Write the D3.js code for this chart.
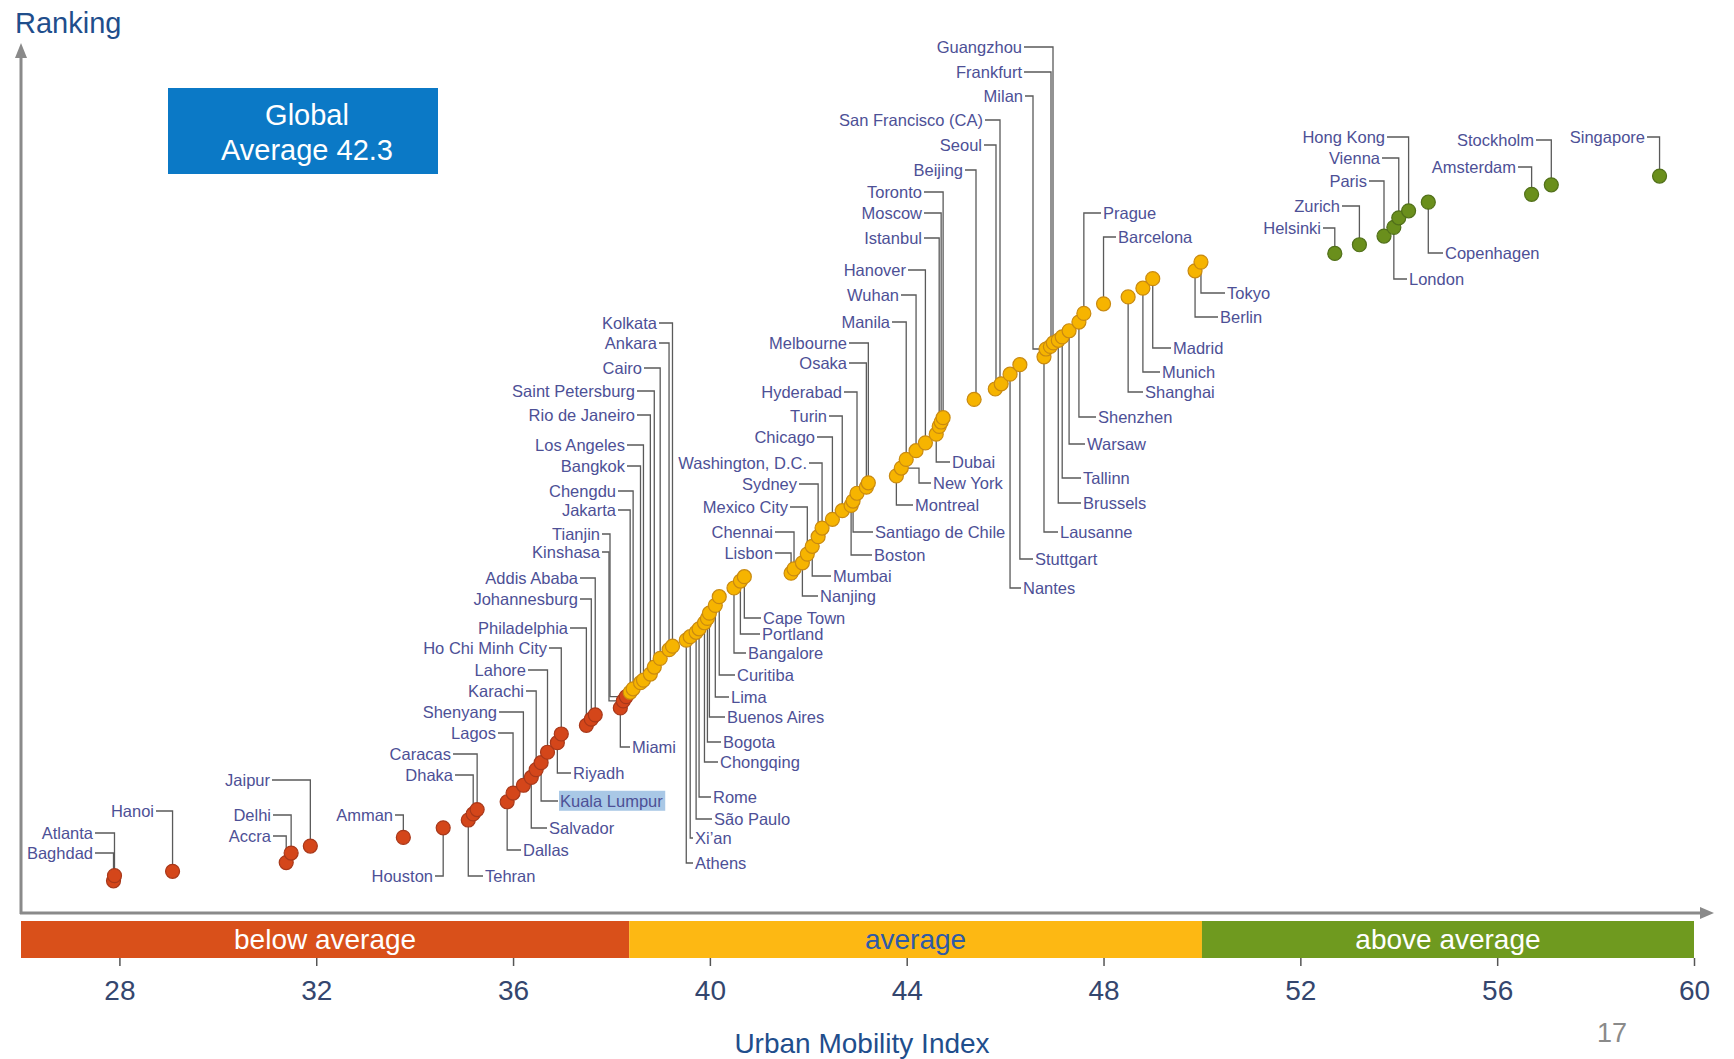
<!DOCTYPE html>
<html><head><meta charset="utf-8">
<script src="https://cdn.jsdelivr.net/npm/d3@7"></script>
<style>
html,body{margin:0;padding:0;background:#fff;}
svg{display:block;font-family:"Liberation Sans",Arial,Helvetica,sans-serif;}
</style></head><body>
<svg id="chart" width="1734" height="1059"></svg>
<script>
// ---------------- DATA ----------------
const cities = ["Singapore","Stockholm","Amsterdam","Copenhagen","Hong Kong","Vienna","London","Paris","Zurich","Helsinki",
"Tokyo","Berlin","Madrid","Munich","Shanghai","Barcelona","Prague","Shenzhen","Warsaw","Tallinn",
"Brussels","Guangzhou","Frankfurt","Milan","Lausanne","Stuttgart","Nantes","San Francisco (CA)","Seoul","Beijing",
"Toronto","Moscow","Istanbul","Dubai","Hanover","Wuhan","Manila","New York","Montreal","Melbourne",
"Osaka","Hyderabad","Santiago de Chile","Boston","Turin","Chicago","Washington, D.C.","Sydney","Mumbai","Mexico City",
"Nanjing","Chennai","Lisbon","Cape Town","Portland","Bangalore","Curitiba","Lima","Buenos Aires","Bogota",
"Chongqing","Rome","São Paulo","Xi’an","Athens","Kolkata","Ankara","Cairo","Saint Petersburg","Rio de Janeiro",
"Los Angeles","Bangkok","Chengdu","Jakarta","Tianjin","Kinshasa","Miami","Addis Ababa","Johannesburg","Philadelphia",
"Ho Chi Minh City","Riyadh","Lahore","Kuala Lumpur","Karachi","Salvador","Shenyang","Lagos","Dallas","Caracas",
"Dhaka","Tehran","Houston","Amman","Jaipur","Delhi","Accra","Hanoi","Atlanta","Baghdad"];

// Urban Mobility Index (x)
const indexValues = [59.3,57.1,56.7,54.6,54.2,54.0,53.9,53.7,53.2,52.7,
49.98,49.86,49.0,48.8,48.5,48.0,47.6,47.5,47.3,47.16,
47.08,46.98,46.92,46.83,46.79,46.3,46.1,45.92,45.8,45.37,
44.74,44.70,44.66,44.60,44.38,44.19,43.99,43.89,43.79,43.22,
43.18,42.99,42.91,42.87,42.69,42.49,42.28,42.20,42.08,41.98,
41.88,41.71,41.65,40.70,40.62,40.49,40.19,40.11,39.99,39.95,
39.89,39.78,39.72,39.60,39.52,39.24,39.17,38.99,38.87,38.79,
38.65,38.59,38.44,38.38,38.30,38.24,38.18,37.67,37.59,37.49,
36.98,36.90,36.70,36.57,36.47,36.37,36.21,36.00,35.88,35.27,
35.19,35.09,34.58,33.77,31.88,31.49,31.39,29.08,27.90,27.88];

// Ranking position (y, 0-100 of the ranking axis)
const rankingValues = [84.8,83.8,82.7,81.8,80.8,80.0,78.9,77.9,76.9,75.9,
74.9,73.9,73.0,71.9,70.9,70.1,69.0,68.0,67.0,66.3,
65.9,65.6,65.2,64.9,64.0,63.1,62.0,60.9,60.3,59.1,
57.0,56.5,56.0,55.1,54.1,53.2,52.2,51.2,50.3,49.5,
49.0,48.3,47.4,46.9,46.3,45.3,44.3,43.3,42.2,41.3,
40.3,39.6,39.1,38.7,38.2,37.4,36.4,35.4,34.5,33.9,
33.4,32.7,32.3,31.8,31.4,30.7,30.3,29.3,28.3,27.5,
26.8,26.5,25.8,25.4,24.9,24.4,23.6,22.8,22.3,21.6,
20.6,19.6,18.5,17.3,16.5,15.6,14.7,13.8,12.8,11.9,
11.4,10.7,9.8,8.7,7.7,6.9,5.8,4.8,4.3,3.7];

const xTicks = [28,32,36,40,44,48,52,56,60];
const bandNames = ["below average","average","above average"];
const bandBreaks = [26, 38.36, 50, 60];
const globalAverage = 42.3;
const highlighted = "Kuala Lumpur";

// ---------------- LABEL LAYOUT (annotation placement, px) ----------------
// side, text anchor x, label y, optional elbow x
const labelLayout = {
"Singapore":["L",1645,137],"Stockholm":["L",1534,140],"Amsterdam":["L",1516,167],"Copenhagen":["R",1445,253],
"Hong Kong":["L",1385,137],"Vienna":["L",1380,158],"London":["R",1409,279],"Paris":["L",1367,181],
"Zurich":["L",1340,206],"Helsinki":["L",1321,228],
"Tokyo":["R",1227,293],"Berlin":["R",1220,317],"Madrid":["R",1173,348],"Munich":["R",1162,372],
"Shanghai":["R",1145,392],"Barcelona":["R",1118,237],"Prague":["R",1103,213],"Shenzhen":["R",1098,417],
"Warsaw":["R",1087,444],"Tallinn":["R",1083,478],"Brussels":["R",1083,503],
"Guangzhou":["L",1022,47,1053],"Frankfurt":["L",1022,72,1051],"Milan":["L",1023,96,1033],
"Lausanne":["R",1060,532],"Stuttgart":["R",1035,559],"Nantes":["R",1023,588],
"San Francisco (CA)":["L",983,120,1000],"Seoul":["L",982,145,996],"Beijing":["L",963,170,976],
"Toronto":["L",922,192],"Moscow":["L",922,213],"Istanbul":["L",922,238],"Dubai":["R",952,462],
"Hanover":["L",906,270],"Wuhan":["L",899,295],"Manila":["L",890,322],"New York":["R",933,483,919],
"Montreal":["R",915,505],"Melbourne":["L",847,343],"Osaka":["L",847,363],"Hyderabad":["L",842,392],
"Santiago de Chile":["R",875,532],"Boston":["R",874,555],"Turin":["L",827,416],"Chicago":["L",815,437],
"Washington, D.C.":["L",807,463],"Sydney":["L",797,484],"Mumbai":["R",833,576],"Mexico City":["L",788,507],
"Nanjing":["R",820,596],"Chennai":["L",773,532],"Lisbon":["L",773,553],
"Cape Town":["R",763,618],"Portland":["R",762,634],"Bangalore":["R",748,653],"Curitiba":["R",737,675],
"Lima":["R",731,697],"Buenos Aires":["R",727,717],"Bogota":["R",723,742],"Chongqing":["R",720,762],
"Rome":["R",713,797],"São Paulo":["R",714,819],"Xi’an":["R",695,838],"Athens":["R",695,863],
"Kolkata":["L",657,323],"Ankara":["L",657,343],"Cairo":["L",642,368],"Saint Petersburg":["L",635,391],
"Rio de Janeiro":["L",635,415],"Los Angeles":["L",625,445],"Bangkok":["L",625,466],"Chengdu":["L",616,491],
"Jakarta":["L",616,510],"Tianjin":["L",600,534,610],"Kinshasa":["L",600,552,609],"Miami":["R",632,747],
"Addis Ababa":["L",578,578],"Johannesburg":["L",578,599],"Philadelphia":["L",568,628],
"Ho Chi Minh City":["L",547,648],"Riyadh":["R",573,773],"Lahore":["L",526,670],"Kuala Lumpur":["R",560,801],
"Karachi":["L",524,691],"Salvador":["R",549,828],"Shenyang":["L",497,712],"Lagos":["L",496,733],
"Dallas":["R",523,850],"Caracas":["L",451,754],"Dhaka":["L",453,775],"Tehran":["R",485,876],
"Houston":["L",433,876],"Amman":["L",393,815],"Jaipur":["L",270,780],"Delhi":["L",271,815],
"Accra":["L",271,836],"Hanoi":["L",154,811],"Atlanta":["L",93,833],"Baghdad":["L",93,853]
};

// ---------------- STYLE ----------------
const bandFill = ["#d9501a","#fdb813","#6f9a1f"];
const bandText = ["#ffffff","#2e5aa8","#ffffff"];
const pointFill = ["#d4461a","#f6b400","#6a8f1c"];
const pointStroke = ["#a8381a","#c98a10","#51701a"];
const labelColor = "#4d5096";
const titleColor = "#1f4e8c";
const axisGray = "#8a8a8a";

// ---------------- CHART ----------------
const svg = d3.select("#chart");
const x = d3.scaleLinear().domain([26, 60]).range([21, 1694]);
const y = d3.scaleLinear().domain([0, 100]).range([913, 44]);
const bandTop = 921, bandBottom = 958;

const data = cities.map((c,i)=>({name:c, v:indexValues[i], h:rankingValues[i],
  cat: indexValues[i] < bandBreaks[1] ? 0 : (indexValues[i] < bandBreaks[2] ? 1 : 2)}));

// bands
const bands = bandNames.map((n,i)=>({name:n, from:bandBreaks[i], to:bandBreaks[i+1], i}));
svg.append("g").selectAll("rect").data(bands).join("rect")
  .attr("x", d=>x(d.from)).attr("y", bandTop)
  .attr("width", d=>x(d.to)-x(d.from)).attr("height", bandBottom-bandTop)
  .attr("fill", d=>bandFill[d.i]);
svg.append("g").selectAll("text").data(bands).join("text")
  .attr("x", d=>(x(d.from)+x(d.to))/2).attr("y", bandTop+28)
  .attr("text-anchor","middle").attr("font-size",28)
  .attr("fill", d=>bandText[d.i]).text(d=>d.name);

// x axis ticks
const axis = svg.append("g").attr("transform",`translate(0,${bandBottom})`)
  .call(d3.axisBottom(x).tickValues(xTicks).tickSize(8).tickPadding(14).tickFormat(d3.format("d")));
axis.select(".domain").remove();
axis.selectAll(".tick line").attr("stroke","#555").attr("stroke-width",1.5);
axis.selectAll(".tick text").attr("font-size",28).attr("fill","#34466e")
  .attr("font-family","'Liberation Sans',Arial,sans-serif");

// axis lines with arrows
const x0 = x(26), yBase = y(0);
svg.append("line").attr("x1",x0).attr("x2",x0).attr("y1",yBase+1).attr("y2",56)
  .attr("stroke",axisGray).attr("stroke-width",3);
svg.append("path").attr("d",`M${x0},43L${x0-6},58L${x0+6},58Z`).attr("fill",axisGray);
svg.append("line").attr("x1",x0-1).attr("x2",1702).attr("y1",yBase).attr("y2",yBase)
  .attr("stroke",axisGray).attr("stroke-width",3);
svg.append("path").attr("d",`M1714,${yBase}L1700,${yBase-6}L1700,${yBase+6}Z`).attr("fill",axisGray);

// titles
svg.append("text").attr("x",15).attr("y",33).attr("font-size",29).attr("fill",titleColor).text("Ranking");
svg.append("text").attr("x",862).attr("y",1053).attr("text-anchor","middle").attr("font-size",28)
  .attr("fill",titleColor).text("Urban Mobility Index");
svg.append("text").attr("x",1612).attr("y",1042).attr("text-anchor","middle").attr("font-size",27)
  .attr("fill","#8a8a8a").text("17");

// global average box
svg.append("rect").attr("x",168).attr("y",88).attr("width",270).attr("height",86).attr("fill","#0b79c6");
svg.append("text").attr("x",307).attr("y",125).attr("text-anchor","middle").attr("font-size",29)
  .attr("fill","#fff").text("Global");
svg.append("text").attr("x",307).attr("y",160).attr("text-anchor","middle").attr("font-size",29)
  .attr("fill","#fff").text("Average " + globalAverage.toFixed(1));

// leader lines
function leader(d){
  const L = labelLayout[d.name]; if(!L) return null;
  const px = x(d.v), py = y(d.h), ex = (L[3]!==undefined) ? L[3] : px;
  if (L[0]==="L") return `M${L[1]+2},${L[2]}H${ex}V${py}H${px}`;
  return `M${px},${py}H${ex}V${L[2]}H${L[1]-2}`;
}
svg.append("g").selectAll("path").data(data).join("path")
  .attr("d", leader).attr("fill","none").attr("stroke","#5a5a5a").attr("stroke-width",1.3);

// labels
const lg = svg.append("g").attr("font-size",16.5).attr("fill",labelColor);
data.forEach(d=>{
  const L = labelLayout[d.name]; if(!L) return;
  const t = lg.append("text").attr("x", L[1]).attr("y", L[2]).attr("dy","0.35em")
    .attr("text-anchor", L[0]==="L" ? "end" : "start").text(d.name);
  if (d.name===highlighted){
    const b = t.node().getBBox();
    lg.insert("rect","text").attr("x",b.x-1).attr("y",b.y-1).attr("width",b.width+3).attr("height",b.height+2)
      .attr("fill","#a9c8e6");
  }
});

// points (draw from bottom so upper ones overlap naturally)
svg.append("g").selectAll("circle").data(data.slice().reverse()).join("circle")
  .attr("cx", d=>x(d.v)).attr("cy", d=>y(d.h)).attr("r",7)
  .attr("fill", d=>pointFill[d.cat]).attr("stroke", d=>pointStroke[d.cat]).attr("stroke-width",1.2);
</script>
</body></html>
